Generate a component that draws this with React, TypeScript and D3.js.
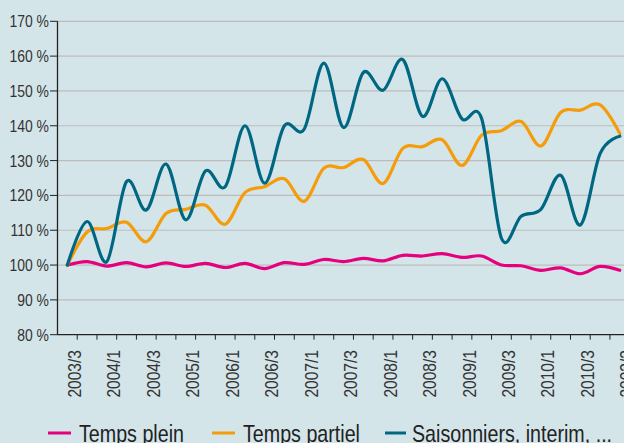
import React from "react";
import * as d3 from "d3";

const quarters = [
  "2003Q3","2003Q4","2004Q1","2004Q2","2004Q3","2004Q4","2005Q1","2005Q2","2005Q3","2005Q4",
  "2006Q1","2006Q2","2006Q3","2006Q4","2007Q1","2007Q2","2007Q3","2007Q4","2008Q1","2008Q2",
  "2008Q3","2008Q4","2009Q1","2009Q2","2009Q3","2009Q4","2010Q1","2010Q2","2010Q3",
];
const tickLabels = [
  "2003/3","2004/1","2004/3","2005/1","2006/1","2006/3","2007/1","2007/3",
  "2008/1","2008/3","2009/1","2009/3","2010/1","2010/3","2003/3",
];
const tempsPlein = [
  100, 101, 99.7, 100.7, 99.5, 100.6, 99.6, 100.5, 99.3, 100.5,
  99, 100.7, 100.2, 101.6, 101, 101.9, 101.2, 102.8, 102.6, 103.3,
  102.2, 102.6, 100, 99.8, 98.5, 99.2, 97.5, 99.6, 98.5,
];
const tempsPartiel = [
  100, 109.5, 110.5, 112.3, 106.7, 114.8, 116, 117.2, 111.7, 120.8,
  122.5, 124.8, 118.3, 127.8, 128, 130.3, 123.4, 133.5, 134, 136,
  128.6, 137.3, 138.6, 141.2, 134.2, 143.8, 144.5, 146, 137.8,
];
const saisonniers = [
  100, 112.5, 101, 124, 115.8, 129, 113, 127, 122.5, 140,
  123.5, 140, 139, 158, 139.5, 155.3, 150.2, 159, 142.7, 153.5,
  142, 142, 107.7, 114, 116, 125.8, 111.5, 132, 137,
];
const yTicks = [80, 90, 100, 110, 120, 130, 140, 150, 160, 170];
const seriesNames = ["Temps plein", "Temps partiel", "Saisonniers, interim, ..."];
const seriesColors = ["#e5007d", "#f59c0b", "#006782"];

const W = 624;
const H = 443;
const FONT = "'Liberation Sans', Arial, sans-serif";
const SX = 0.82;

export default function App() {
  const left = 57.5;
  const step = 19.73;
  const x = d3.scaleBand<string>().domain(quarters).range([left, left + step * quarters.length]).paddingInner(0).paddingOuter(0);
  const y = d3.scaleLinear().domain([80, 170]).range([334.7, 21.3]);
  const line = d3
    .line<number>()
    .x((_, i) => (x(quarters[i]) as number) + x.bandwidth() / 2)
    .y((d) => y(d))
    .curve(d3.curveCardinal.tension(0));
  const series = [tempsPlein, tempsPartiel, saisonniers];
  const legendX = [48, 212, 385];

  return (
    <svg
      width={W}
      height={H}
      style={{ position: "absolute", left: 0, top: 0, background: "#d4e5ea", fontFamily: FONT }}
    >
      <rect x={0} y={0} width={W} height={H} fill="#d4e5ea" />
      {yTicks.map((t) => (
        <g key={t}>
          {t > 80 && (
            <line x1={left} x2={W + 10} y1={y(t)} y2={y(t)} stroke="#bcbcbc" strokeWidth={1.2} />
          )}
          <line x1={50} x2={left} y1={y(t)} y2={y(t)} stroke="#222" strokeWidth={1} />
          <g transform={`translate(49,${y(t)}) scale(${SX},1)`}>
            <text dy="0.35em" textAnchor="end" fontSize={17} fill="#333">
              {t} %
            </text>
          </g>
        </g>
      ))}
      {quarters.map((q) => (
        <line
          key={q}
          x1={(x(q) as number) + x.bandwidth()}
          x2={(x(q) as number) + x.bandwidth()}
          y1={y(80)}
          y2={y(80) + 5}
          stroke="#222"
          strokeWidth={1}
        />
      ))}
      {tickLabels.map((lab, k) => {
        const cx = (x(quarters[k * 2]) as number) + x.bandwidth() / 2 + 6.9;
        return (
          <text
            key={k}
            transform={`translate(${cx},350) rotate(-90) scale(${SX},1)`}
            dy="0.35em"
            textAnchor="end"
            fontSize={19}
            fill="#333"
          >
            {lab}
          </text>
        );
      })}
      <line x1={left} x2={left} y1={y(170)} y2={y(80)} stroke="#222" strokeWidth={1.3} />
      <line x1={left} x2={W + 10} y1={y(80)} y2={y(80)} stroke="#222" strokeWidth={1.3} />
      {series.map((s, i) => (
        <path
          key={i}
          d={line(s) || ""}
          fill="none"
          stroke={seriesColors[i]}
          strokeWidth={3.2}
          strokeLinejoin="round"
          strokeLinecap="round"
        />
      ))}
      {seriesNames.map((n, i) => (
        <g key={n}>
          <line
            x1={legendX[i]}
            x2={legendX[i] + (i === 2 ? 21 : 23)}
            y1={433}
            y2={433}
            stroke={seriesColors[i]}
            strokeWidth={3}
          />
          <text
            transform={`translate(${legendX[i] + (i === 2 ? 27 : 31)},442) scale(${SX},1)`}
            fontSize={24}
            fill="#222"
          >
            {n}
          </text>
        </g>
      ))}
    </svg>
  );
}
